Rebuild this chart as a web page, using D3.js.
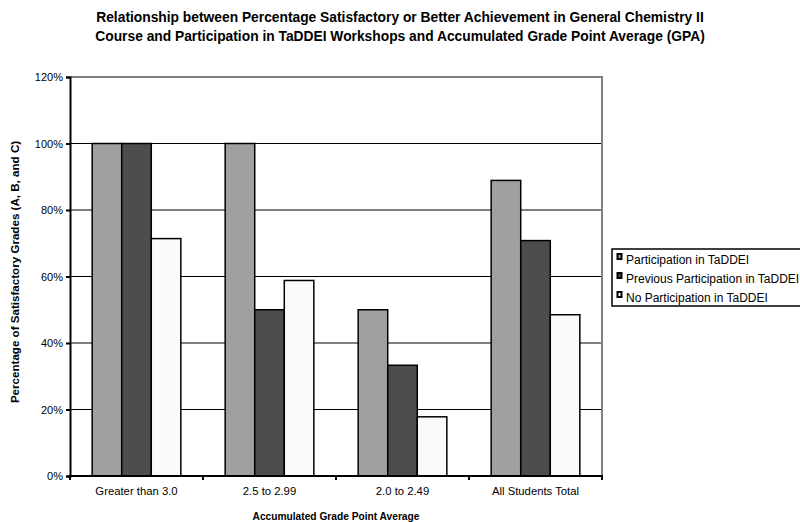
<!DOCTYPE html>
<html>
<head>
<meta charset="utf-8">
<script src="https://cdn.jsdelivr.net/npm/d3@7"></script>
<style>
  html, body { margin: 0; padding: 0; background: #fff; }
  svg { display: block; font-family: "Liberation Sans", Arial, sans-serif; }
</style>
</head>
<body>
<svg id="chart" width="800" height="522"></svg>
<script>
// GPA bands on the x axis
const categories = ["Greater than 3.0", "2.5 to 2.99", "2.0 to 2.49", "All Students Total"];
// Series names (legend order)
const seriesNames = ["Participation in TaDDEI", "Previous Participation in TaDDEI", "No Participation in TaDDEI"];
// Percent satisfactory (A, B, C) per series
const participation = [100, 100, 50, 88.9];
const previousParticipation = [100, 50, 33.3, 70.8];
const noParticipation = [71.4, 58.8, 17.8, 48.5];
// Y axis tick values
const yTicks = [0, 20, 40, 60, 80, 100, 120];

const seriesValues = [participation, previousParticipation, noParticipation];
const seriesColors = ["#a0a0a0", "#4d4d4d", "#fafafa"];

const svg = d3.select("#chart");
const plot = { left: 70, right: 602, top: 77, bottom: 476 };

const x0 = d3.scaleBand().domain(categories).range([plot.left, plot.right]).paddingInner(0).paddingOuter(0);
const x1 = d3.scaleBand().domain(d3.range(seriesNames.length))
  .range([0, x0.bandwidth()]).paddingInner(0).paddingOuter(0.75);
const y = d3.scaleLinear().domain([0, 120]).range([plot.bottom, plot.top]);

// Title
const title = svg.append("text").attr("x", 400).attr("y", 22)
  .attr("text-anchor", "middle").style("font-weight", "bold").style("font-size", "13.8px");
title.append("tspan").attr("x", 400).attr("dy", 0)
  .text("Relationship between Percentage Satisfactory or Better Achievement in General Chemistry II");
title.append("tspan").attr("x", 400).attr("dy", 18.5)
  .text("Course and Participation in TaDDEI Workshops and Accumulated Grade Point Average (GPA)");

// Gridlines
svg.append("g").selectAll("line").data(yTicks.filter(t => t > 0 && t < 120)).join("line")
  .attr("x1", plot.left).attr("x2", plot.right)
  .attr("y1", d => y(d)).attr("y2", d => y(d))
  .attr("stroke", "#000").attr("stroke-width", 1);

// Plot frame top and right (gray)
svg.append("path")
  .attr("d", `M${plot.left},${y(120)}H${plot.right}V${plot.bottom}`)
  .attr("fill", "none").attr("stroke", "#808080").attr("stroke-width", 2);

// Bars
const groups = svg.append("g").selectAll("g").data(categories).join("g")
  .attr("transform", d => `translate(${x0(d)},0)`);
groups.selectAll("rect")
  .data((c, ci) => seriesValues.map((vals, si) => ({ si, v: vals[ci] })))
  .join("rect")
  .attr("x", d => x1(d.si))
  .attr("width", x1.bandwidth())
  .attr("y", d => y(d.v))
  .attr("height", d => y(0) - y(d.v))
  .attr("fill", d => seriesColors[d.si])
  .attr("stroke", "#000").attr("stroke-width", 1.5);

// Y axis
const yAxis = d3.axisLeft(y).tickValues(yTicks).tickFormat(d => d + "%").tickSize(4).tickPadding(3);
const gy = svg.append("g").attr("transform", `translate(${plot.left},0)`).call(yAxis);
gy.select(".domain").attr("stroke", "#000").attr("stroke-width", 2);
gy.selectAll(".tick line").attr("stroke", "#000").attr("stroke-width", 2);
gy.selectAll(".tick text").style("font-size", "11px").style("font-family", "Liberation Sans, Arial, sans-serif").attr("fill", "#000");

// X axis: ticks at category boundaries
const gx = svg.append("g").attr("transform", `translate(0,${plot.bottom})`);
gx.append("line").attr("x1", plot.left - 1).attr("x2", plot.right + 1)
  .attr("stroke", "#000").attr("stroke-width", 2);
const boundaries = categories.map(c => x0(c)).concat([x0(categories[categories.length - 1]) + x0.bandwidth()]);
gx.selectAll("line.tk").data(boundaries).join("line").attr("class", "tk")
  .attr("x1", d => d).attr("x2", d => d).attr("y1", 0).attr("y2", 4)
  .attr("stroke", "#000").attr("stroke-width", 2);
gx.selectAll("text").data(categories).join("text")
  .attr("x", d => x0(d) + x0.bandwidth() / 2).attr("y", 19)
  .attr("text-anchor", "middle").style("font-size", "11.3px").text(d => d);

// Axis titles
svg.append("text").attr("x", (plot.left + plot.right) / 2).attr("y", 520)
  .attr("text-anchor", "middle").style("font-weight", "bold").style("font-size", "10.2px")
  .text("Accumulated Grade Point Average");
svg.append("text").attr("transform", "translate(19,272) rotate(-90)")
  .attr("text-anchor", "middle").style("font-weight", "bold").style("font-size", "11.6px")
  .text("Percentage of Satisfactory Grades (A, B, and C)");

// Legend
const legend = svg.append("g").attr("transform", "translate(612,249)");
legend.append("rect").attr("x", 0).attr("y", 0).attr("width", 200).attr("height", 57)
  .attr("fill", "#fff").attr("stroke", "#000").attr("stroke-width", 1.5);
const items = legend.selectAll("g").data(seriesNames).join("g")
  .attr("transform", (d, i) => `translate(0,${10 + i * 19})`);
items.append("rect").attr("x", 5.5).attr("y", -5).attr("width", 4).attr("height", 5)
  .attr("fill", (d, i) => seriesColors[i]).attr("stroke", "#000").attr("stroke-width", 2);
items.append("text").attr("x", 14).attr("y", 4.5).style("font-size", "12px").text(d => d);
</script>
</body>
</html>
